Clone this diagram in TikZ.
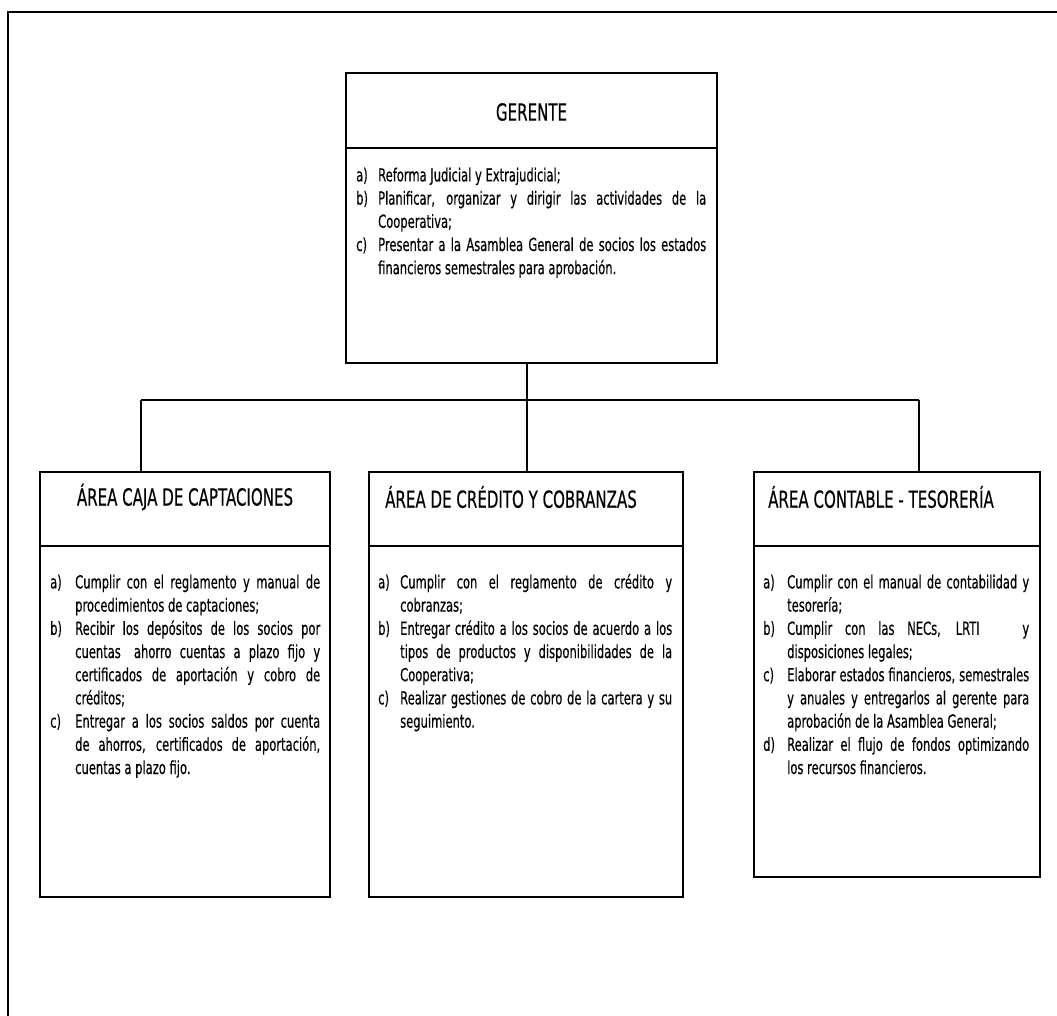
\documentclass[tikz,border=0pt]{standalone}
\usepackage{fontspec}
\setmainfont{DejaVu Sans}[FakeStretch=0.64,FakeBold=0.4]
% one hanging-indented item of a list: #1 indent, #2 label
\newcommand{\listitem}[2]{\par\hangindent=#1\hangafter=1\noindent\makebox[#1][l]{#2}\ignorespaces}
\begin{document}
\begin{tikzpicture}[x=1pt,y=-1pt,
  frame/.style={line width=2.2pt},
  vline/.style={line width=1.1pt},
  hline/.style={line width=2.2pt},
  boxpart/.style={draw, line width=1.1pt, anchor=north west, inner sep=0pt, outer sep=0pt},
  headtext/.style={font=\fontsize{23.5}{27}\selectfont, inner sep=0pt},
  listtext/.style={font=\fontsize{18}{23.2}\selectfont, align=justify, anchor=north west, inner sep=0pt,
    execute at begin node={\hbadness=10000\tolerance=10000}},
]
\useasboundingbox (0,0) rectangle (1057,1016);

% outer frame (top and left edges)
\draw[frame] (8,1016) -- (8,12) -- (1057,12);

% ---------- GERENTE ----------
\node[boxpart, minimum width=371pt, minimum height=75pt] (gh) at (346,73) {};
\node[boxpart, minimum width=371pt, minimum height=215pt] (gb) at (346,148) {};
\draw[hline] (gh.north west) -- (gh.north east);
\draw[hline] (gb.north west) -- (gb.north east);
\draw[hline] (gb.south west) -- (gb.south east);
\node[headtext] (ght) at (531.5,112) {GERENTE};
\node[listtext, text width=350pt] (gbt) at (356,158) {%
\listitem{22pt}{a)}Reforma Judicial y Extrajudicial;
\listitem{22pt}{b)}Planificar, organizar y dirigir las actividades de la\linebreak Cooperativa;
\listitem{22pt}{c)}Presentar a la Asamblea General de socios los estados\linebreak financieros semestrales para aprobación.\par};

% ---------- ÁREA CAJA DE CAPTACIONES ----------
\node[boxpart, minimum width=290pt, minimum height=74pt] (lh) at (40,472) {};
\node[boxpart, minimum width=290pt, minimum height=351pt] (lb) at (40,546) {};
\draw[hline] (lh.north west) -- (lh.north east);
\draw[hline] (lb.north west) -- (lb.north east);
\draw[hline] (lb.south west) -- (lb.south east);
\node[headtext] (lht) at (185,497) {ÁREA CAJA DE CAPTACIONES};
\node[listtext, text width=270pt] (lbt) at (50,565) {%
\listitem{25pt}{a)}Cumplir con el reglamento y manual de\linebreak procedimientos de captaciones;
\listitem{25pt}{b)}Recibir los depósitos de los socios por\linebreak cuentas\hspace{5pt} ahorro cuentas a plazo fijo y\linebreak certificados de aportación y cobro de\linebreak créditos;
\listitem{25pt}{c)}Entregar a los socios saldos por cuenta\linebreak de ahorros, certificados de aportación,\linebreak cuentas a plazo fijo.\par};

% ---------- ÁREA DE CRÉDITO Y COBRANZAS ----------
\node[boxpart, minimum width=314pt, minimum height=74pt] (mh) at (369,472) {};
\node[boxpart, minimum width=314pt, minimum height=351pt] (mb) at (369,546) {};
\draw[hline] (mh.north west) -- (mh.north east);
\draw[hline] (mb.north west) -- (mb.north east);
\draw[hline] (mb.south west) -- (mb.south east);
\node[headtext, anchor=west] (mht) at (385,497) {ÁREA DE CRÉDITO Y COBRANZAS};
\node[listtext, text width=294pt] (mbt) at (378,565) {%
\listitem{22pt}{a)}Cumplir con el reglamento de crédito y\linebreak cobranzas;
\listitem{22pt}{b)}Entregar crédito a los socios de acuerdo a los\linebreak tipos de productos y disponibilidades de la\linebreak Cooperativa;
\listitem{22pt}{c)}Realizar gestiones de cobro de la cartera y su\linebreak seguimiento.\par};

% ---------- ÁREA CONTABLE - TESORERÍA ----------
\node[boxpart, minimum width=286pt, minimum height=74pt] (rh) at (754,472) {};
\node[boxpart, minimum width=286pt, minimum height=331pt] (rb) at (754,546) {};
\draw[hline] (rh.north west) -- (rh.north east);
\draw[hline] (rb.north west) -- (rb.north east);
\draw[hline] (rb.south west) -- (rb.south east);
\node[headtext, anchor=west] (rht) at (768,497) {ÁREA CONTABLE - TESORERÍA};
\node[listtext, text width=266pt] (rbt) at (763,565) {%
\listitem{24pt}{a)}Cumplir con el manual de contabilidad y\linebreak tesorería;
\listitem{24pt}{b)}Cumplir con las NECs, LRTI\hspace{30pt} y\linebreak disposiciones legales;
\listitem{24pt}{c)}Elaborar estados financieros, semestrales\linebreak y anuales y entregarlos al gerente para\linebreak aprobación de la Asamblea General;
\listitem{24pt}{d)}Realizar el flujo de fondos optimizando\linebreak los recursos financieros.\par};

% ---------- connectors ----------
\coordinate (trunk) at (527,400);
\coordinate (jl) at (141,400);
\coordinate (jr) at (919,400);
\draw[vline] (gb.south -| trunk) -- (trunk);
\draw[hline] (jl) -- (jr);
\draw[vline] (jl) -- (jl |- lh.north);
\draw[vline] (trunk) -- (trunk |- mh.north);
\draw[vline] (jr) -- (jr |- rh.north);
\end{tikzpicture}
\end{document}
